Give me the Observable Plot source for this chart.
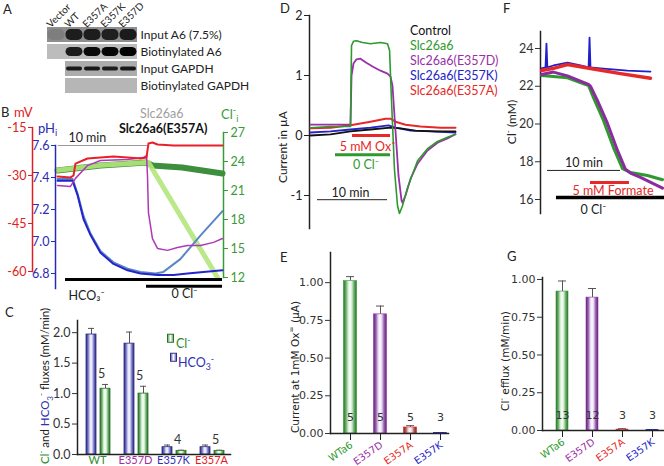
<!DOCTYPE html>
<html><head><meta charset="utf-8">
<script src="https://cdn.jsdelivr.net/npm/d3@7"></script>
<script src="https://cdn.jsdelivr.net/npm/@observablehq/plot@0.6"></script>
<style>
body{margin:0;background:#fff;font-family:Lato,"Noto Sans",sans-serif;}
#fig{position:relative;width:664px;height:466px;overflow:hidden;background:#fff;}
.lbl{position:absolute;white-space:nowrap;font-size:12.5px;line-height:1;transform:translateY(-50%);color:#222;}
.rot{transform:translate(-50%,-50%) rotate(-90deg);}
.lbl sup,.lbl sub{font-size:0.7em;line-height:0;}
.sw{position:absolute;width:7px;height:9px;box-sizing:border-box;}
</style></head><body>
<svg width="0" height="0" style="position:absolute">
<defs>
<linearGradient id="gBlue" x1="0" x2="1" y1="0" y2="0">
<stop offset="0" stop-color="#2b2b80"/><stop offset="0.2" stop-color="#6f6fc0"/><stop offset="0.35" stop-color="#c4c4ec"/><stop offset="0.5" stop-color="#ffffff"/><stop offset="0.65" stop-color="#c4c4ec"/><stop offset="0.8" stop-color="#6f6fc0"/><stop offset="1" stop-color="#2b2b80"/>
</linearGradient>
<linearGradient id="gGreen" x1="0" x2="1" y1="0" y2="0">
<stop offset="0" stop-color="#2a6e2a"/><stop offset="0.2" stop-color="#6fb06f"/><stop offset="0.35" stop-color="#cdeccd"/><stop offset="0.5" stop-color="#ffffff"/><stop offset="0.65" stop-color="#cdeccd"/><stop offset="0.8" stop-color="#6fb06f"/><stop offset="1" stop-color="#2a6e2a"/>
</linearGradient>
<linearGradient id="gPurple" x1="0" x2="1" y1="0" y2="0">
<stop offset="0" stop-color="#5a2070"/><stop offset="0.2" stop-color="#9a66b4"/><stop offset="0.35" stop-color="#e2d2ee"/><stop offset="0.5" stop-color="#ffffff"/><stop offset="0.65" stop-color="#e2d2ee"/><stop offset="0.8" stop-color="#9a66b4"/><stop offset="1" stop-color="#5a2070"/>
</linearGradient>
<linearGradient id="gRed" x1="0" x2="1" y1="0" y2="0">
<stop offset="0" stop-color="#7a2222"/><stop offset="0.2" stop-color="#b06262"/><stop offset="0.35" stop-color="#eed0d0"/><stop offset="0.5" stop-color="#ffffff"/><stop offset="0.65" stop-color="#eed0d0"/><stop offset="0.8" stop-color="#b06262"/><stop offset="1" stop-color="#7a2222"/>
</linearGradient>
</defs></svg>
<div id="fig"></div>
<script>
// ---------------- DATA ----------------
// Panel A (blot)
const lanes = ["Vector", "WT", "E357A", "E357K", "E357D"];
const blotRows = ["Input A6 (7.5%)", "Biotinylated A6", "Input GAPDH", "Biotinylated GAPDH"];
const inputA6 = [0.12, 0.9, 0.9, 0.88, 0.92];
const biotA6 = [0.0, 0.85, 0.95, 0.97, 1.0];
const inputGAPDH = [null, 0.95, 0.95, 0.92, 0.95];
const biotGAPDH = [null, 0, 0, 0, 0];
const rowShade = ["#8e8e8e", "#bcbcbc", "#acacac", "#b6b6b6"];

// Panel B: [time (min), value]
const bPhE357A = [[0,7.38],[1.7,7.38],[2.25,7.29],[2.92,7.14],[3.71,7.04],[4.83,6.93],[6.29,6.86],[7.87,6.82],[9.33,6.80],[11.24,6.79],[13.03,6.79],[14.61,6.80],[16.4,6.81],[18.54,6.82]];
const bPhA6 = [[0,7.39],[1.7,7.39],[2.25,7.30],[2.92,7.16],[3.71,7.05],[4.83,6.94],[6.29,6.87],[7.87,6.83],[9.33,6.81],[11.0,6.80],[11.9,6.81],[13.8,6.89],[16.1,7.04],[18.54,7.19]];
const bMvE357A = [[0,-30.3],[1.46,-30.6],[1.8,-30.0],[2.02,-26.3],[3.37,-24.7],[4.83,-24.4],[6.29,-24.1],[7.87,-24.4],[9.33,-24.7],[10.0,-24.4],[10.22,-20.0],[10.67,-19.7],[11.24,-20.3],[13.03,-20.6],[16.07,-20.6],[18.54,-20.6]];
const bMvA6 = [[0,-33.1],[1.46,-33.4],[2.02,-30.9],[3.37,-26.9],[4.83,-25.3],[7.87,-25.0],[9.66,-24.4],[10.0,-23.75],[10.11,-30.0],[10.22,-41.6],[10.67,-49.7],[11.24,-52.8],[12.36,-53.4],[13.48,-52.5],[14.61,-51.9],[16.07,-51.9],[17.53,-50.9],[18.54,-49.7]];
const bClE357A = [[0,23.07],[4.83,23.59],[10.0,23.9],[10.67,23.59],[14.0,23.38],[18.54,22.76]];
const bClA6 = [[0,23.1],[4.83,23.6],[10.0,23.9],[10.22,23.9],[17.98,12.0]];
const bBars = [
  {label: "10 min", t1: 0.1, t2: 10.1, y: 7.6},
  {label: "HCO₃⁻", t1: 0.9, t2: 18.54, y: 6.7625},
  {label: "0 Cl⁻", t1: 10.0, t2: 18.54, y: 6.72}
];

// Panel C
const cats = ["WT", "E357D", "E357K", "E357A"];
const cCatColors = ["#2e8b2e", "#a030a0", "#3030b0", "#e02020"];
const hco3Flux = [1.97, 1.82, 0.12, 0.12];
const hco3Err = [0.10, 0.19, 0.035, 0.035];
const clFlux = [1.08, 1.00, 0.06, 0.06];
const clErr = [0.07, 0.12, 0.01, 0.01];
const cN = [5, 5, 4, 5];

// Panel D: [time (min), current (uA)]
const dControl = [[0,0.0],[2.86,0.02],[5.71,0.07],[8.57,0.1],[11.43,0.13],[12.86,0.12],[15,0.08],[17.86,0.07],[20.71,0.07]];
const dA6 = [[0,0.13],[2.86,0.15],[5.71,0.15],[5.86,1.5],[6.14,1.57],[6.57,1.58],[7.43,1.55],[8.57,1.53],[10,1.55],[11,1.53],[11.29,1.42],[11.57,0.58],[12,-0.58],[12.43,-1.17],[12.71,-1.3],[13.14,-1.17],[13.86,-0.87],[15.29,-0.42],[16.71,-0.22],[18.14,-0.1],[19.57,-0.03],[20.71,0.02]];
const dE357D = [[0,0.18],[2.86,0.18],[5.71,0.18],[5.86,1.0],[6.14,1.2],[6.57,1.27],[7.14,1.28],[7.86,1.22],[8.86,1.15],[10,1.08],[11,1.03],[11.43,0.98],[11.71,0.83],[12.14,0.08],[12.57,-0.67],[13,-1.08],[13.14,-1.12],[13.57,-1.0],[14.29,-0.72],[15.29,-0.47],[16.71,-0.25],[18.14,-0.12],[19.57,-0.05],[20.71,0.02]];
const dE357K = [[0,0.05],[2.86,0.07],[5.71,0.1],[8.57,0.13],[11.14,0.17],[12.14,0.13],[14.29,0.08],[17.14,0.07],[20.71,0.05]];
const dE357A = [[0,0.12],[2.86,0.13],[5.71,0.17],[8.57,0.23],[10.71,0.28],[11.43,0.28],[12.14,0.23],[13.57,0.18],[15.71,0.15],[18.57,0.13],[20.71,0.13]];
const dLegend = ["Control", "Slc26a6", "Slc26a6(E357D)", "Slc26a6(E357K)", "Slc26a6(E357A)"];
const dBars = [
  {label: "5 mM Ox⁼", t1: 6.0, t2: 11.43, v: 0},
  {label: "0 Cl⁻", t1: 3.57, t2: 11.43, v: -0.32},
  {label: "10 min", t1: 1.0, t2: 11.0, v: -1.07}
];

// Panel E
const eCats = ["WTa6", "E357D", "E357A", "E357K"];
const eCatColors = ["#2e9a2e", "#9a2fa8", "#e62828", "#2323c8"];
const eFills = ["url(#gGreen)", "url(#gPurple)", "url(#gRed)", "url(#gBlue)"];
const eVal = [1.01, 0.79, 0.04, 0.003];
const eErr = [0.03, 0.055, 0.012, 0.003];
const eN = [5, 5, 5, 3];

// Panel F: [time (min), Cl- (mM)]
const fE357K = [[0,22.95],[0.55,23.0],[0.68,24.26],[0.8,23.0],[1.64,23.1],[3.56,23.25],[5.34,23.1],[6.45,23.0],[6.58,24.58],[6.71,23.0],[8.08,22.95],[11.78,22.83],[14.93,22.78]];
const fE357A = [[0,22.83],[1.64,22.95],[3.56,23.15],[6.71,22.94],[10.82,22.67],[14.93,22.42]];
const fE357D = [[0,22.62],[1.64,22.75],[3.56,22.55],[6.44,22.1],[6.71,22.0],[7.67,21.24],[9.04,20.03],[10.41,18.6],[11.5,17.6],[12.19,17.4],[13.56,17.17],[16.58,16.6]];
const fA6 = [[0,22.57],[3.56,22.45],[6.44,22.04],[7.12,21.4],[8.49,20.19],[9.86,18.75],[11.1,17.64],[12.19,17.43],[14.52,17.27],[16.58,17.05]];
const fBars = [
  {label: "10 min", t1: 0.82, t2: 10.82, v: 17.54},
  {label: "5 mM Formate", t1: 6.71, t2: 12.05, v: 16.9},
  {label: "0 Cl⁻", t1: 2.05, t2: 16.85, v: 16.1}
];

// Panel G
const gVal = [0.92, 0.88, 0.006, 0.002];
const gErr = [0.07, 0.06, 0.006, 0.004];
const gN = [13, 12, 3, 3];

// ---------------- RENDER ----------------
const W = 664, H = 466;
const FONT = "Lato, 'Noto Sans', sans-serif";
const VFONT = "'DejaVu Sans', Verdana, sans-serif";
const fig = document.getElementById("fig");
function mount(opts, font = FONT, size = "12.5px") {
  const svg = Plot.plot({width: W, height: H, ...opts,
    style: {position: "absolute", left: "0px", top: "0px", background: "transparent",
            fontFamily: font, fontSize: size, overflow: "visible", color: "#222"}});
  fig.appendChild(svg);
}
function lbl(html, x, y, css = "", rot = false) {
  const d = document.createElement("div");
  d.className = "lbl" + (rot ? " rot" : "");
  d.innerHTML = html;
  d.style.left = x + "px"; d.style.top = y + "px";
  if (css) d.style.cssText += css;
  fig.appendChild(d);
}
const tx = d => d[0], ty = d => d[1];
const fmt1 = d3.format(".1f"), fmt2 = d3.format(".2f");

// ---- Panel A
const blotCells = [];
blotRows.forEach((row, r) => lanes.forEach((lane, i) => { if (r < 2 || i > 0) blotCells.push({row, lane, r}); }));
const bandsOf = (arr, row) => lanes.map((lane, i) => ({lane, row, v: arr[i]})).filter(d => d.v != null && d.v > 0);
mount({
  marginLeft: 47, marginRight: W - 137, marginTop: 24, marginBottom: H - 97,
  x: {type: "band", domain: lanes, padding: 0, axis: null},
  y: {type: "band", domain: blotRows, padding: 0.1, axis: null},
  color: {type: "identity"},
  marks: [
    Plot.cell(blotCells, {x: "lane", y: "row", fill: d => rowShade[d.r], inset: 0}),
    Plot.cell(bandsOf(inputA6, blotRows[0]), {x: "lane", y: "row", fill: "#111", fillOpacity: "v", insetTop: 2, insetBottom: 2, insetLeft: 0.5, insetRight: 0.5, rx: 5}),
    Plot.cell(bandsOf(biotA6, blotRows[1]), {x: "lane", y: "row", fill: "#000", fillOpacity: "v", insetTop: 3, insetBottom: 3, insetLeft: 0.5, insetRight: 0.5, rx: 5}),
    Plot.cell(bandsOf(inputGAPDH, blotRows[2]), {x: "lane", y: "row", fill: "#111", fillOpacity: "v", insetTop: 5.5, insetBottom: 5.5, insetLeft: 1, insetRight: 1, rx: 2}),
    Plot.text(blotRows, {x: () => "E357D", y: d => d, dx: 12, textAnchor: "start", fontSize: 12}),
    Plot.text(lanes, {x: d => d, y: () => blotRows[0], dx: -8, dy: -9, rotate: -45, textAnchor: "start", fontSize: 10})
  ]
});

// ---- Panel B (three overlaid y scales)
const cGreenAx = "#3a9a3a", cBlueAx = "#2a2ab4", cRedAx = "#e02020";
mount({
  marginLeft: 55, marginRight: W - 223, marginTop: 132, marginBottom: H - 277,
  x: {domain: [0, 18.54], range: [57, 222], axis: null},
  y: {domain: [12, 27]},
  marks: [
    Plot.frame({anchor: "right", stroke: cGreenAx, strokeWidth: 1.5}),
    Plot.axisY({anchor: "right", ticks: [12, 15, 18, 21, 24, 27], tickSize: 4, tickPadding: 3, color: cGreenAx, label: null}),
    Plot.line(bClE357A, {x: tx, y: ty, stroke: "#3d8f3d", strokeWidth: 6}),
    Plot.line(bClA6, {x: tx, y: ty, stroke: "#b4e67c", strokeWidth: 5, strokeOpacity: 0.9})
  ]
});
mount({
  marginLeft: 55, marginRight: W - 223, marginTop: 145, marginBottom: H - 288,
  x: {domain: [0, 18.54], range: [57, 222], axis: null},
  y: {domain: [6.8, 7.6], range: [273, 145]},
  marks: [
    Plot.frame({anchor: "left", stroke: cBlueAx, strokeWidth: 1.5}),
    Plot.axisY({ticks: [6.8, 7.0, 7.2, 7.4, 7.6], tickFormat: fmt1, tickSize: 4, tickPadding: 2, color: cBlueAx, label: null}),
    Plot.ruleY([bBars[0]], {x1: "t1", x2: "t2", y: "y", stroke: "#9a9a9a", strokeWidth: 1.2}),
    Plot.text([bBars[0]], {x: "t1", y: "y", text: "label", textAnchor: "start", dx: 10, dy: -8}),
    Plot.line(bPhA6, {x: tx, y: ty, stroke: "#5b86c4", strokeWidth: 2}),
    Plot.line(bPhE357A, {x: tx, y: ty, stroke: "#2424cc", strokeWidth: 2}),
    Plot.ruleY(bBars.slice(1), {x1: "t1", x2: "t2", y: "y", stroke: "#000", strokeWidth: 3}),
    Plot.text([bBars[1]], {x: "t1", y: "y", text: "label", textAnchor: "start", dx: 3, dy: 16}),
    Plot.text([bBars[2]], {x: d => (d.t1 + d.t2) / 2, y: "y", text: "label", dy: 8})
  ]
});
mount({
  marginLeft: 32, marginRight: W - 223, marginTop: 127, marginBottom: H - 271,
  x: {domain: [0, 18.54], range: [57, 222], axis: null},
  y: {domain: [-60, -15]},
  marks: [
    Plot.frame({anchor: "left", stroke: cRedAx, strokeWidth: 1.5}),
    Plot.axisY({ticks: [-60, -45, -30, -15], tickFormat: d => String(d), tickSize: 4, tickPadding: 2, color: cRedAx, label: null}),
    Plot.line(bMvA6, {x: tx, y: ty, stroke: "#b038b8", strokeWidth: 1.5}),
    Plot.line(bMvE357A, {x: tx, y: ty, stroke: "#e8202a", strokeWidth: 2})
  ]
});

// ---- Panel C
const cData = cats.map((cat, i) => ({cat, hco3: hco3Flux[i], hco3e: hco3Err[i], cl: clFlux[i], cle: clErr[i], n: cN[i], color: cCatColors[i]}));
mount({
  marginLeft: 77, marginRight: W - 230, marginTop: 320, marginBottom: H - 454,
  x: {type: "band", domain: cats, padding: 0, axis: null},
  y: {domain: [0, 2.2]},
  color: {type: "identity"},
  marks: [
    Plot.ruleX(cData, {x: "cat", y1: "hco3", y2: d => d.hco3 + d.hco3e, dx: -6, stroke: "#555"}),
    Plot.tickY(cData, {x: "cat", y: d => d.hco3 + d.hco3e, insetLeft: 10, insetRight: 22, stroke: "#555"}),
    Plot.ruleX(cData, {x: "cat", y1: "cl", y2: d => d.cl + d.cle, dx: 8, stroke: "#555"}),
    Plot.tickY(cData, {x: "cat", y: d => d.cl + d.cle, insetLeft: 24, insetRight: 8, stroke: "#555"}),
    Plot.barY(cData, {x: "cat", y: "hco3", insetLeft: 8, insetRight: 20, fill: () => "url(#gBlue)", stroke: "#2b2b80", strokeWidth: 0.8}),
    Plot.barY(cData, {x: "cat", y: "cl", insetLeft: 22, insetRight: 6, fill: () => "url(#gGreen)", stroke: "#2a6e2a", strokeWidth: 0.8}),
    Plot.text(cData, {x: "cat", y: d => d.cl + d.cle, text: d => String(d.n), dx: 4, dy: -10, fill: "#333"}),
    Plot.text(cData, {x: "cat", text: "cat", fill: "color", frameAnchor: "bottom", dy: 9, fontSize: 11}),
    Plot.frame({anchor: "bottom", stroke: "#222", strokeWidth: 1.5}),
    Plot.frame({anchor: "left", stroke: "#222", strokeWidth: 1.5}),
    Plot.axisY({ticks: [0, 0.5, 1, 1.5, 2], tickFormat: fmt1, tickSize: 5, tickPadding: 2, label: null, color: "#333"})
  ]
});

// ---- Panel D
mount({
  marginLeft: 309, marginRight: W - 455, marginTop: 15, marginBottom: H - 228,
  x: {domain: [0, 20.71], range: [310, 455], axis: null},
  y: {domain: [-1.55, 2]},
  marks: [
    Plot.frame({anchor: "left", stroke: "#222", strokeWidth: 1.5}),
    Plot.axisY({ticks: [-1, 0, 1, 2], tickFormat: d => String(d), tickSize: 5, tickPadding: 2, label: null, color: "#222"}),
    Plot.line(dE357A, {x: tx, y: ty, stroke: "#e62828", strokeWidth: 2}),
    Plot.line(dE357K, {x: tx, y: ty, stroke: "#2323c8", strokeWidth: 1.8}),
    Plot.line(dControl, {x: tx, y: ty, stroke: "#111", strokeWidth: 1.8}),
    Plot.line(dE357D, {x: tx, y: ty, stroke: "#9a2fa8", strokeWidth: 1.8}),
    Plot.line(dA6, {x: tx, y: ty, stroke: "#2e9a2e", strokeWidth: 1.6}),
    Plot.ruleY([dBars[0]], {x1: "t1", x2: "t2", y: "v", stroke: "#e62828", strokeWidth: 3}),
    Plot.text([dBars[0]], {x: d => (d.t1 + d.t2) / 2, y: "v", text: "label", fill: "#e62828", dx: -4, dy: 11}),
    Plot.ruleY([dBars[1]], {x1: "t1", x2: "t2", y: "v", stroke: "#2e9a2e", strokeWidth: 3}),
    Plot.text([dBars[1]], {x: d => (d.t1 + d.t2) / 2, y: "v", text: "label", fill: "#2e9a2e", dx: 3, dy: 10}),
    Plot.ruleY([dBars[2]], {x1: "t1", x2: "t2", y: "v", stroke: "#222", strokeWidth: 1}),
    Plot.text([dBars[2]], {x: d => (d.t1 + d.t2) / 2, y: "v", text: "label", fill: "#222", dx: -2, dy: -7})
  ]
});

// ---- Panel E
const eData = eCats.map((cat, i) => ({cat, v: eVal[i], e: eErr[i], n: eN[i], color: eCatColors[i], fill: eFills[i]}));
mount({
  marginLeft: 330, marginRight: W - 448, marginTop: 252, marginBottom: H - 433,
  x: {type: "band", domain: eCats, range: [334.5, 454.5], padding: 0, axis: null},
  y: {domain: [0, 1.2]},
  color: {type: "identity"},
  marks: [
    Plot.ruleX(eData, {x: "cat", y1: "v", y2: d => d.v + d.e, stroke: "#555"}),
    Plot.tickY(eData, {x: "cat", y: d => d.v + d.e, insetLeft: 11, insetRight: 11, stroke: "#555"}),
    Plot.barY(eData, {x: "cat", y: "v", insetLeft: 8.5, insetRight: 8.5, fill: "fill", stroke: d => d.color, strokeWidth: 0.6}),
    Plot.text(eData, {x: "cat", y: () => 0, text: d => String(d.n), dy: -16, fill: "#333"}),
    Plot.frame({anchor: "bottom", stroke: "#222", strokeWidth: 1.5}),
    Plot.frame({anchor: "left", stroke: "#222", strokeWidth: 1.5}),
    Plot.axisX({tickSize: 7, tickFormat: () => "", label: null, color: "#222"}),
    Plot.text(eData, {x: "cat", text: "cat", fill: "color", frameAnchor: "bottom", rotate: -35, textAnchor: "end", dx: 3, dy: 13, fontSize: 10}),
    Plot.axisY({ticks: [0, 0.25, 0.5, 0.75, 1], tickFormat: fmt2, tickSize: 5, tickPadding: 2, label: null, color: "#333"})
  ]
}, VFONT, "11px");

// ---- Panel F
mount({
  marginLeft: 540, marginRight: 0, marginTop: 31, marginBottom: H - 213,
  x: {domain: [0, 16.85], range: [541, 664], axis: null},
  y: {domain: [16, 24], range: [199, 48]},
  marks: [
    Plot.frame({anchor: "left", stroke: "#222", strokeWidth: 1.5}),
    Plot.axisY({ticks: [16, 18, 20, 22, 24], tickSize: 5, tickPadding: 2, label: null, color: "#333"}),
    Plot.line(fE357K, {x: tx, y: ty, stroke: "#1f1fd0", strokeWidth: 1.8}),
    Plot.line(fE357A, {x: tx, y: ty, stroke: "#e62828", strokeWidth: 3.5}),
    Plot.line(fA6, {x: tx, y: ty, stroke: "#2e9a2e", strokeWidth: 3}),
    Plot.line(fE357D, {x: tx, y: ty, stroke: "#8b2c9e", strokeWidth: 3}),
    Plot.ruleY([fBars[0]], {x1: "t1", x2: "t2", y: "v", stroke: "#222", strokeWidth: 1}),
    Plot.text([fBars[0]], {x: d => (d.t1 + d.t2) / 2, y: "v", text: "label", fill: "#222", dy: -7}),
    Plot.ruleY([fBars[1]], {x1: "t1", x2: "t2", y: "v", stroke: "#e62828", strokeWidth: 3}),
    Plot.text([fBars[1]], {x: d => (d.t1 + d.t2) / 2, y: "v", text: "label", fill: "#e62828", dx: 3, dy: 8}),
    Plot.ruleY([fBars[2]], {x1: "t1", x2: "t2", y: "v", stroke: "#000", strokeWidth: 3.5}),
    Plot.text([fBars[2]], {x: d => (d.t1 + d.t2) / 2, y: "v", text: "label", fill: "#222", dx: -17, dy: 12})
  ]
});

// ---- Panel G
const gData = eCats.map((cat, i) => ({cat, v: gVal[i], e: gErr[i], n: gN[i], color: eCatColors[i], fill: eFills[i]}));
mount({
  marginLeft: 542, marginRight: 0, marginTop: 277, marginBottom: H - 430,
  x: {type: "band", domain: eCats, range: [547, 667], padding: 0, axis: null},
  y: {domain: [0, 1.013]},
  color: {type: "identity"},
  marks: [
    Plot.ruleX(gData, {x: "cat", y1: "v", y2: d => d.v + d.e, stroke: "#555"}),
    Plot.tickY(gData, {x: "cat", y: d => d.v + d.e, insetLeft: 11, insetRight: 11, stroke: "#555"}),
    Plot.barY(gData, {x: "cat", y: "v", insetLeft: 9, insetRight: 9, fill: "fill", stroke: d => d.color, strokeWidth: 0.6}),
    Plot.text(gData, {x: "cat", y: () => 0, text: d => String(d.n), dy: -15, fill: "#333"}),
    Plot.frame({anchor: "bottom", stroke: "#222", strokeWidth: 1.5}),
    Plot.frame({anchor: "left", stroke: "#222", strokeWidth: 1.5}),
    Plot.axisX({tickSize: 7, tickFormat: () => "", label: null, color: "#222"}),
    Plot.text(gData, {x: "cat", text: "cat", fill: "color", frameAnchor: "bottom", rotate: -35, textAnchor: "end", dx: 3, dy: 13, fontSize: 10}),
    Plot.axisY({ticks: [0, 0.25, 0.5, 0.75, 1], tickFormat: fmt2, tickSize: 5, tickPadding: 2, label: null, color: "#333"})
  ]
}, VFONT, "11px");

// ---------------- LABELS ----------------
lbl("A", 3, 9, "font-size:13px");
lbl("B", 1, 112, "font-size:13px");
lbl("mV", 14, 112, "color:#e02020;font-size:13px");
lbl("pH<sub>i</sub>", 38, 128, "color:#2a2ab4;font-size:13px");
lbl("Slc26a6", 140, 114, "color:#a0a0a0;font-size:12.5px");
lbl("<b>Slc26a6(E357A)</b>", 119, 129, "color:#111;font-size:12.5px");
lbl("Cl<sup>-</sup><sub>i</sub>", 221, 114, "color:#3a9a3a;font-size:13px");
lbl("C", 5, 312, "font-size:13px");
lbl('<span style="color:#2e8b2e">Cl<sup>-</sup></span> and <span style="color:#3030b0">HCO<sub>3</sub><sup>-</sup></span> fluxes (mM/min)', 45, 386, "font-size:11.5px", true);
lbl('<span class="sw" style="left:-9px;top:-4px;border:1px solid #2a6e2a;background:linear-gradient(90deg,#6fb06f,#fff,#6fb06f)"></span>Cl<sup>-</sup>', 176, 344, "color:#2e8b2e");
lbl('<span class="sw" style="left:-8px;top:-4px;border:1px solid #2b2b80;background:linear-gradient(90deg,#6f6fc0,#fff,#6f6fc0)"></span>HCO<sub>3</sub><sup>-</sup>', 178, 363, "color:#3030b0");
lbl("D", 280, 8, "font-size:13px");
const dLegColors = ["#111", "#2e9a2e", "#9a2fa8", "#2323c8", "#e62828"];
dLegend.forEach((t, i) => lbl(t, 410, 31 + i * 15, "color:" + dLegColors[i]));
lbl("Current in µA", 283, 147, "font-size:12px", true);
lbl("E", 280, 257, "font-size:13px");
lbl("Current at 1mM Ox<sup>=</sup> (µA)", 295, 367, "font-family:'DejaVu Sans',sans-serif;font-size:10.5px", true);
lbl("F", 503, 8, "font-size:13px");
lbl("Cl<sup>-</sup> (mM)", 512, 122, "font-size:12px", true);
lbl("G", 507, 256, "font-size:13px");
lbl("Cl<sup>-</sup> efflux (mM/min)", 505, 361, "font-family:'DejaVu Sans',sans-serif;font-size:10.5px", true);
</script></body></html>
